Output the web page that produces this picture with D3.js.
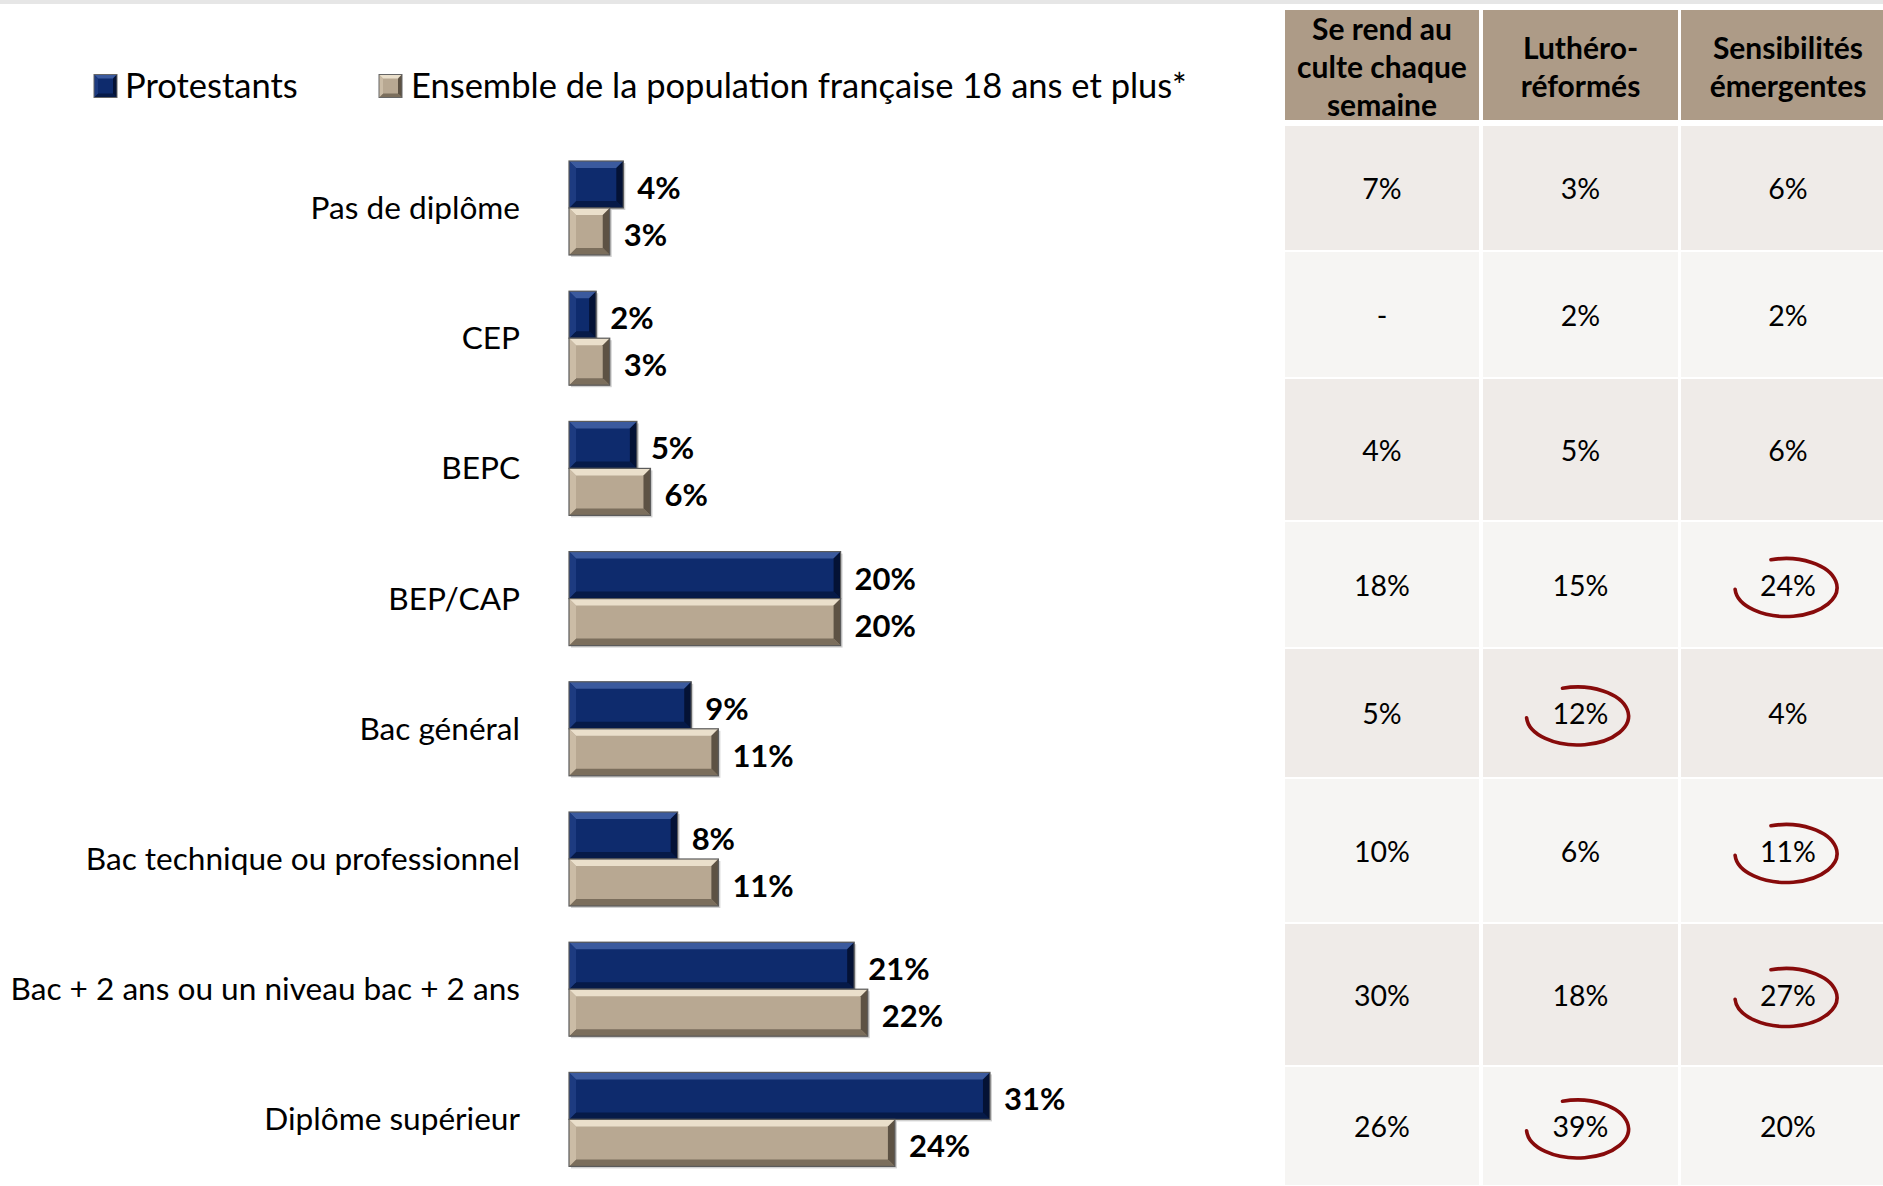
<!DOCTYPE html>
<html><head><meta charset="utf-8">
<script src="https://cdn.jsdelivr.net/npm/d3@7"></script>
<style>
html,body{margin:0;padding:0;background:#fff;}
svg{display:block;}
</style></head>
<body>
<svg id="chart" width="1883" height="1186"></svg>
<script>
// ---------- DATA ----------
const categories = ["Pas de diplôme","CEP","BEPC","BEP/CAP","Bac général","Bac technique ou professionnel","Bac + 2 ans ou un niveau bac + 2 ans","Diplôme supérieur"];
const protestants = [4,2,5,20,9,8,21,31];
const ensemble    = [3,3,6,20,11,11,22,24];
const seriesNames = ["Protestants","Ensemble de la population française 18 ans et plus*"];
const tableHeaders = [["Se rend au","culte chaque","semaine"],["Luthéro-","réformés"],["Sensibilités","émergentes"]];
const colCulte     = ["7%","-","4%","18%","5%","10%","30%","26%"];
const colLuthero   = ["3%","2%","5%","15%","12%","6%","18%","39%"];
const colEmergent  = ["6%","2%","6%","24%","4%","11%","27%","20%"];
const highlights = [[3,2],[4,1],[5,2],[6,2],[7,1]]; // [row, column]

// ---------- LAYOUT ----------
const W = 1883, H = 1186;
const FONT = "Lato, 'Open Sans', sans-serif";
const svg = d3.select("#chart");
const palette = {
  blue: {base:"#0e2b6d", top:"#3b5a9e", left:"#1d3b80", bottom:"#061a48", right:"#041235"},
  tan:  {base:"#b8a892", top:"#eadfcb", left:"#cbbca6", bottom:"#7b6e5c", right:"#5d5244"}
};

// top grey band
svg.append("rect").attr("x",0).attr("y",0).attr("width",W).attr("height",4).attr("fill","#e6e6e6");

// scales
const x = d3.scaleLinear().domain([0,40]).range([569, 569+40*13.58]);
const y = d3.scaleBand().domain(categories).range([142.9, 142.9+130.2*8]).paddingInner(0).paddingOuter(0);
const barH = 47;

function bevelBar(g, x0, x1, yTop, h, pal){
  const w = x1 - x0;
  const b = Math.min(7, w/2);
  g.append("rect").attr("x",x0+2).attr("y",yTop+2).attr("width",w).attr("height",h)
    .attr("fill","rgba(0,0,0,0.18)");
  g.append("rect").attr("x",x0).attr("y",yTop).attr("width",w).attr("height",h).attr("fill",pal.base);
  const poly = (pts, fill) => g.append("polygon").attr("points", pts.map(p=>p.join(",")).join(" ")).attr("fill",fill);
  poly([[x0,yTop],[x1,yTop],[x1-b,yTop+b],[x0+b,yTop+b]], pal.top);
  poly([[x0,yTop+h],[x1,yTop+h],[x1-b,yTop+h-b],[x0+b,yTop+h-b]], pal.bottom);
  poly([[x0,yTop],[x0+b,yTop+b],[x0+b,yTop+h-b],[x0,yTop+h]], pal.left);
  poly([[x1,yTop],[x1-b,yTop+b],[x1-b,yTop+h-b],[x1,yTop+h]], pal.right);
  g.append("rect").attr("x",x0).attr("y",yTop).attr("width",w).attr("height",h)
    .attr("fill","none").attr("stroke","#5b5b5b").attr("stroke-width",1.2);
}

const bars = svg.append("g");
categories.forEach((c,i)=>{
  const cy = y(c) + y.bandwidth()/2;
  const series = [[protestants[i], palette.blue, cy - barH], [ensemble[i], palette.tan, cy]];
  series.forEach(([v, pal, top])=>{
    bevelBar(bars, x(0), x(v), top, barH, pal);
    bars.append("text").attr("x", x(v)+14).attr("y", top + barH/2 + 6.5)
      .attr("dominant-baseline","middle")
      .attr("font-family",FONT).attr("font-weight","bold").attr("font-size",31)
      .attr("fill","#000").text(v + "%");
  });
  svg.append("text").attr("x",520).attr("y",cy+3).attr("text-anchor","end")
    .attr("dominant-baseline","middle")
    .attr("font-family",FONT).attr("font-size",31.6).attr("fill","#000").text(c);
});

// legend
const legend = svg.append("g");
const legendItems = [{x:94, tx:125, pal:palette.blue},{x:379, tx:411, pal:palette.tan}];
legendItems.forEach((it,k)=>{
  const s = 23, t = 86 - s/2;
  const p = it.pal;
  const g = legend.append("g");
  g.append("rect").attr("x",it.x).attr("y",t).attr("width",s).attr("height",s).attr("fill",p.base);
  const poly = (pts, fill) => g.append("polygon").attr("points", pts.map(q=>q.join(",")).join(" ")).attr("fill",fill);
  const x0=it.x, x1=it.x+s, y0=t, y1=t+s, b=4;
  poly([[x0,y0],[x1,y0],[x1-b,y0+b],[x0+b,y0+b]], p.top);
  poly([[x0,y1],[x1,y1],[x1-b,y1-b],[x0+b,y1-b]], p.bottom);
  poly([[x0,y0],[x0+b,y0+b],[x0+b,y1-b],[x0,y1]], p.left);
  poly([[x1,y0],[x1-b,y0+b],[x1-b,y1-b],[x1,y1]], p.right);
  g.append("rect").attr("x",x0).attr("y",y0).attr("width",s).attr("height",s).attr("fill","none").attr("stroke","#666").attr("stroke-width",1);
  legend.append("text").attr("x",it.tx).attr("y",89).attr("dominant-baseline","middle")
    .attr("font-family",FONT).attr("font-size",34.5).attr("fill","#000").text(seriesNames[k]);
});

// table
const colEdges = [[1285,1479],[1483,1678],[1681,1883]];
const colTextShift = [0,0,6];
const rowEdges = [126,251,378,521,648,778,923,1066,1186];
const headerTop = 10, headerBottom = 120;
const columns = [colCulte, colLuthero, colEmergent];
const table = svg.append("g");
colEdges.forEach(([a,b],j)=>{
  table.append("rect").attr("x",a).attr("y",headerTop).attr("width",b-a).attr("height",headerBottom-headerTop).attr("fill","#ad9b87");
  const lines = tableHeaders[j];
  const cx = (a+b)/2 + colTextShift[j], cy = (headerTop+headerBottom)/2, lh = 38;
  lines.forEach((ln,k)=>{
    table.append("text").attr("x",cx).attr("y",cy + (k-(lines.length-1)/2)*lh + 5)
      .attr("text-anchor","middle").attr("dominant-baseline","middle")
      .attr("font-family",FONT).attr("font-weight","bold").attr("font-size",30).attr("fill","#000").text(ln);
  });
  for(let r=0;r<categories.length;r++){
    const y0 = rowEdges[r] + (r===0?0:1), y1 = rowEdges[r+1] - 1;
    table.append("rect").attr("x",a).attr("y",y0).attr("width",b-a).attr("height",y1-y0)
      .attr("fill", r%2===0 ? "#efebe8" : "#f6f5f3");
    table.append("text").attr("x",cx).attr("y",(y0+y1)/2 + 4)
      .attr("text-anchor","middle").attr("dominant-baseline","middle")
      .attr("font-family",FONT).attr("font-size",28.5).attr("fill","#000").text(columns[j][r]);
  }
});

// highlight ellipses (open arcs)
highlights.forEach(([r,j])=>{
  const [a,b] = colEdges[j];
  const cx = (a+b)/2 + (j===1? -3 : 4), cy = (rowEdges[r]+rowEdges[r+1])/2 + 3;
  const rx = 51, ry = 29;
  const t1 = -1.87, t2 = 3.08;
  const p1 = [cx + rx*Math.cos(t1), cy + ry*Math.sin(t1)];
  const p2 = [cx + rx*Math.cos(t2), cy + ry*Math.sin(t2)];
  table.append("path")
    .attr("d", `M${p1[0]},${p1[1]} A${rx},${ry} 0 1 1 ${p2[0]},${p2[1]}`)
    .attr("fill","none").attr("stroke","#870b0b").attr("stroke-width",3.6).attr("stroke-linecap","round");
});
</script>
</body></html>
